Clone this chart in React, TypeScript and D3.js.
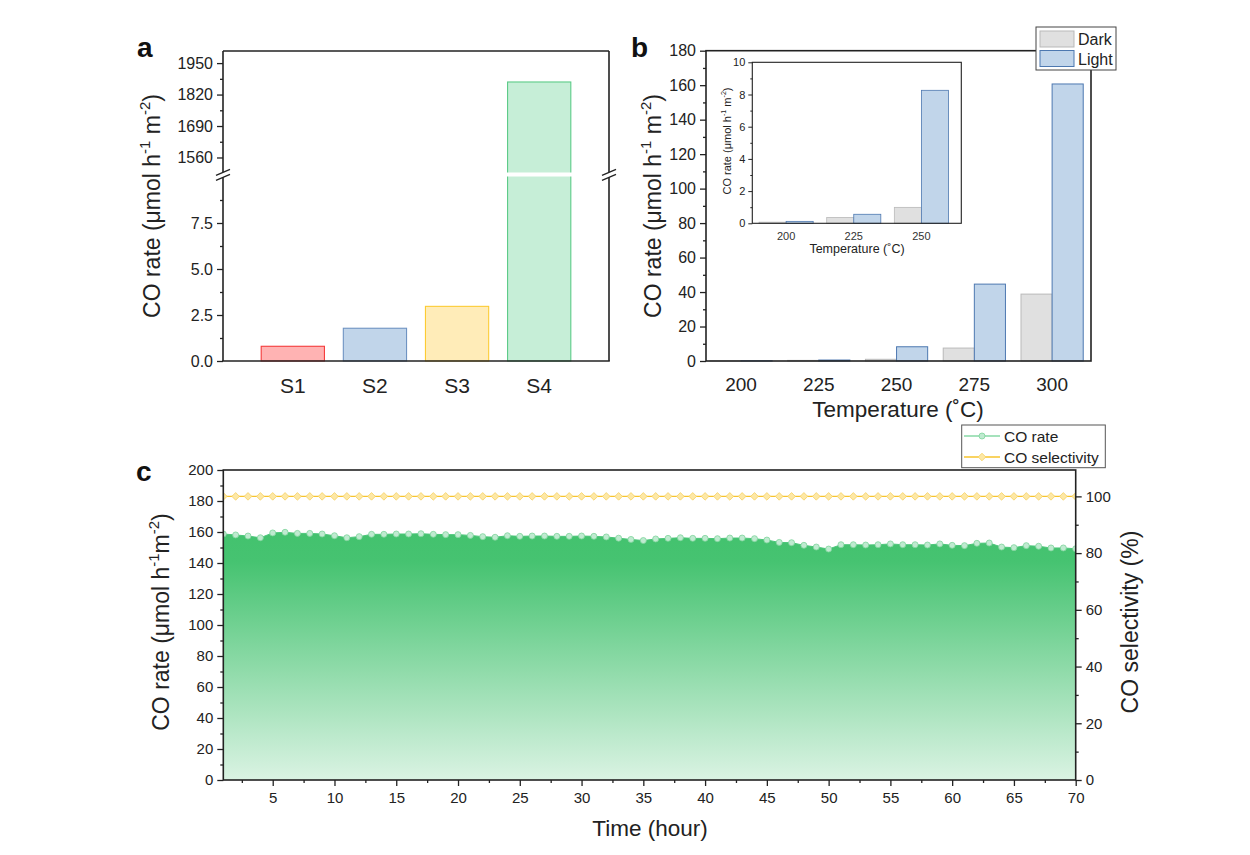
import { useEffect, useRef } from 'react'
import * as d3 from 'd3'

const FONT = '"Liberation Sans", Arial, sans-serif'
const INK = '#222'

// panel a
const SAMPLES = ['S1', 'S2', 'S3', 'S4']
const SAMPLE_RATE = [0.8, 1.78, 2.97, 1872]
const SAMPLE_FILL = ['#ffb3b3', '#c1d5ea', '#ffecb8', '#c6eed7']
const SAMPLE_STROKE = ['#f53b3b', '#6f93c2', '#fccb33', '#5ccb88']

// panel b
const TEMPS = ['200', '225', '250', '275', '300']
const DARK_RATE = [0.07, 0.36, 0.99, 7.5, 38.8]
const LIGHT_RATE = [0.12, 0.56, 8.26, 44.6, 160.7]

// panel c
const HOURS = [
  1, 2, 3, 4, 5, 6, 7, 8, 9, 10, 11, 12, 13, 14, 15, 16, 17, 18, 19, 20, 21, 22, 23, 24, 25, 26, 27, 28, 29, 30, 31, 32, 33, 34, 35,
  36, 37, 38, 39, 40, 41, 42, 43, 44, 45, 46, 47, 48, 49, 50, 51, 52, 53, 54, 55, 56, 57, 58, 59, 60, 61, 62, 63, 64, 65, 66, 67, 68,
  69, 70,
]
const CO_RATE = [
  158.7, 158.1, 157.4, 156.3, 159.4, 159.8, 159.1, 159.1, 158.7, 157.6, 156.3, 157.0, 158.5, 158.5, 158.7, 158.7, 158.9, 158.5, 158.3,
  158.3, 157.8, 157.0, 156.6, 157.6, 157.2, 157.4, 157.4, 157.2, 157.2, 157.4, 157.2, 156.8, 156.0, 155.2, 154.5, 155.5, 155.9, 156.3,
  155.9, 155.9, 155.7, 156.1, 156.1, 155.7, 154.8, 153.3, 153.1, 151.4, 150.3, 149.0, 151.8, 151.8, 151.6, 151.8, 152.3, 151.8, 151.8,
  151.6, 152.3, 151.4, 151.2, 152.7, 152.9, 150.3, 149.9, 151.2, 150.8, 149.7, 149.7, 149.2,
]
const CO_SELECTIVITY = [
  100, 100, 100, 100, 100, 100, 100, 100, 100, 100, 100, 100, 100, 100, 100, 100, 100, 100, 100, 100, 100, 100, 100, 100, 100, 100, 100,
  100, 100, 100, 100, 100, 100, 100, 100, 100, 100, 100, 100, 100, 100, 100, 100, 100, 100, 100, 100, 100, 100, 100, 100, 100, 100, 100,
  100, 100, 100, 100, 100, 100, 100, 100, 100, 100, 100, 100, 100, 100, 100, 100,
]

type Sel = d3.Selection<any, unknown, null, undefined>

function styleAxis(ga: Sel, fs: number) {
  ga.select('.domain').remove()
  ga.selectAll('line').attr('stroke', INK).attr('stroke-width', 1.3)
  ga.selectAll('text').attr('font-size', fs).attr('font-family', FONT).attr('fill', INK)
}

function vAxis(g: Sel, scale: any, x: number, majors: number[], minors: number[], fmt: (d: any) => string, fs: number, right = false) {
  const mk = right ? d3.axisRight : d3.axisLeft
  const a = g.append('g').attr('transform', `translate(${x},0)`).call(mk(scale).tickValues(majors).tickSize(6).tickPadding(4).tickFormat(fmt))
  styleAxis(a, fs)
  const m = g.append('g').attr('transform', `translate(${x},0)`).call(mk(scale).tickValues(minors).tickSize(3).tickFormat(() => ''))
  styleAxis(m, fs)
}

function rateLabel(t: Sel, fs: number, space: boolean) {
  t.append('tspan').text('CO rate (μmol h')
  t.append('tspan').attr('dy', -fs * 0.42).attr('font-size', fs * 0.65).text('-1')
  t.append('tspan').attr('dy', fs * 0.42).text(space ? ' m' : 'm')
  t.append('tspan').attr('dy', -fs * 0.42).attr('font-size', fs * 0.65).text('-2')
  t.append('tspan').attr('dy', fs * 0.42).text(')')
}

function frame(g: Sel, x0: number, x1: number, y0: number, y1: number, w = 1.6) {
  g.append('rect').attr('x', x0).attr('y', y0).attr('width', x1 - x0).attr('height', y1 - y0)
    .attr('fill', 'none').attr('stroke', INK).attr('stroke-width', w)
}

function panelLetter(svg: Sel, s: string, x: number, y: number) {
  svg.append('text').attr('x', x).attr('y', y).attr('font-family', FONT).attr('font-weight', 'bold')
    .attr('font-size', 28).attr('fill', '#111').text(s)
}

function drawA(svg: Sel) {
  const L = 223, R = 609, T = 51, B = 361, brkHi = 172, brkLo = 177
  const g = svg.append('g')
  const x = d3.scaleLinear().domain([0.15, 4.85]).range([L, R])
  const yLo = d3.scaleLinear().domain([0, 10]).range([B, brkLo])
  const yHi = d3.scaleLinear().domain([1500, 2000]).range([brkHi, T])
  const bw = 0.77

  SAMPLES.forEach((s, i) => {
    const v = SAMPLE_RATE[i]
    const top = v > 10 ? yHi(v) : yLo(v)
    g.append('rect').attr('x', x(i + 1 - bw / 2)).attr('y', top)
      .attr('width', x(i + 1 + bw / 2) - x(i + 1 - bw / 2)).attr('height', B - top)
      .attr('fill', SAMPLE_FILL[i]).attr('stroke', SAMPLE_STROKE[i]).attr('stroke-width', 1.1)
    if (v > 10) {
      g.append('rect').attr('x', x(i + 1 - bw / 2) - 2).attr('y', brkHi + 0.5)
        .attr('width', x(i + 1 + bw / 2) - x(i + 1 - bw / 2) + 4).attr('height', brkLo - brkHi - 1).attr('fill', '#fff')
    }
    g.append('text').attr('x', x(i + 1)).attr('y', 393).attr('text-anchor', 'middle')
      .attr('font-family', FONT).attr('font-size', 21).attr('fill', INK).text(s)
  })

  // frame with broken sides
  const ln = (x1: number, y1: number, x2: number, y2: number) =>
    g.append('line').attr('x1', x1).attr('y1', y1).attr('x2', x2).attr('y2', y2).attr('stroke', INK).attr('stroke-width', 1.6)
  ln(L, T, R, T)
  ln(L - 0.8, B, R + 0.8, B)
  ;[L, R].forEach((xx) => {
    ln(xx, T, xx, brkHi)
    ln(xx, brkLo, xx, B)
    ;[-2.2, 2.8].forEach((o) => {
      g.append('line').attr('x1', xx - 7).attr('y1', 174.5 + o + 3).attr('x2', xx + 7).attr('y2', 174.5 + o - 3)
        .attr('stroke', INK).attr('stroke-width', 1.3)
    })
  })

  vAxis(g, yLo, L, [0, 2.5, 5, 7.5], [1.25, 3.75, 6.25, 8.75], (d) => d3.format('.1f')(d), 16)
  vAxis(g, yHi, L, [1560, 1690, 1820, 1950], [1625, 1755, 1885], (d) => String(d), 16)

  const t = svg.append('text').attr('transform', 'translate(160,206) rotate(-90)').attr('text-anchor', 'middle')
    .attr('font-family', FONT).attr('font-size', 23).attr('fill', INK)
  rateLabel(t, 23, true)
  panelLetter(svg, 'a', 137, 57)
}

function drawB(svg: Sel) {
  const L = 706, R = 1091, T = 50.7, B = 361
  const g = svg.append('g')
  const x = d3.scaleLinear().domain([0.55, 5.5]).range([L, R])
  const y = d3.scaleLinear().domain([0, 180]).range([B, T])
  const bw = 0.4
  TEMPS.forEach((tc, i) => {
    const c = i + 1
    g.append('rect').attr('x', x(c - bw)).attr('y', y(DARK_RATE[i])).attr('width', x(c) - x(c - bw))
      .attr('height', B - y(DARK_RATE[i])).attr('fill', '#e0e0e0').attr('stroke', '#b9b9b9').attr('stroke-width', 1)
    g.append('rect').attr('x', x(c)).attr('y', y(LIGHT_RATE[i])).attr('width', x(c + bw) - x(c))
      .attr('height', B - y(LIGHT_RATE[i])).attr('fill', '#c1d5ea').attr('stroke', '#4d78b0').attr('stroke-width', 1)
    g.append('text').attr('x', x(c)).attr('y', 391).attr('text-anchor', 'middle')
      .attr('font-family', FONT).attr('font-size', 19).attr('fill', INK).text(tc)
  })
  frame(g, L, R, T, B)
  vAxis(g, y, L, d3.range(0, 181, 20), d3.range(10, 180, 20), (d) => String(d), 16)

  const t = svg.append('text').attr('transform', 'translate(661,206) rotate(-90)').attr('text-anchor', 'middle')
    .attr('font-family', FONT).attr('font-size', 23).attr('fill', INK)
  rateLabel(t, 23, true)
  svg.append('text').attr('x', 898).attr('y', 417).attr('text-anchor', 'middle').attr('font-family', FONT)
    .attr('font-size', 22.5).attr('fill', INK).text('Temperature (˚C)')
  panelLetter(svg, 'b', 631, 57)

  // inset
  const iL = 752.3, iR = 961.3, iT = 62.3, iB = 223.3
  const ix = d3.scaleLinear().domain([0.5, 3.59]).range([iL, iR])
  const iy = d3.scaleLinear().domain([0, 10]).range([iB, iT])
  TEMPS.slice(0, 3).forEach((tc, i) => {
    const c = i + 1
    g.append('rect').attr('x', ix(c - bw)).attr('y', iy(DARK_RATE[i])).attr('width', ix(c) - ix(c - bw))
      .attr('height', iB - iy(DARK_RATE[i])).attr('fill', '#e0e0e0').attr('stroke', '#b9b9b9').attr('stroke-width', 0.8)
    g.append('rect').attr('x', ix(c)).attr('y', iy(LIGHT_RATE[i])).attr('width', ix(c + bw) - ix(c))
      .attr('height', iB - iy(LIGHT_RATE[i])).attr('fill', '#c1d5ea').attr('stroke', '#4d78b0').attr('stroke-width', 0.8)
    g.append('text').attr('x', ix(c)).attr('y', 240).attr('text-anchor', 'middle')
      .attr('font-family', FONT).attr('font-size', 11).attr('fill', '#333').text(tc)
  })
  frame(g, iL, iR, iT, iB, 1.1)
  const ia = g.append('g').attr('transform', `translate(${iL},0)`)
    .call(d3.axisLeft(iy).tickValues([0, 2, 4, 6, 8, 10]).tickSize(4).tickPadding(3).tickFormat((d) => String(d)))
  styleAxis(ia, 11)
  ia.selectAll('line').attr('stroke-width', 1)
  const im = g.append('g').attr('transform', `translate(${iL},0)`)
    .call(d3.axisLeft(iy).tickValues([1, 3, 5, 7, 9]).tickSize(2).tickFormat(() => ''))
  styleAxis(im, 11)
  im.selectAll('line').attr('stroke-width', 1)
  const it = svg.append('text').attr('transform', 'translate(731,141) rotate(-90)').attr('text-anchor', 'middle')
    .attr('font-family', FONT).attr('font-size', 11).attr('fill', INK)
  rateLabel(it, 11, true)
  svg.append('text').attr('x', 857).attr('y', 253).attr('text-anchor', 'middle').attr('font-family', FONT)
    .attr('font-size', 12.5).attr('fill', INK).text('Temperature (˚C)')

  // legend
  const lg = svg.append('g')
  lg.append('rect').attr('x', 1036).attr('y', 27).attr('width', 80).attr('height', 43)
    .attr('fill', '#fff').attr('stroke', '#444').attr('stroke-width', 1)
  ;[['Dark', '#e0e0e0', '#b9b9b9'], ['Light', '#c1d5ea', '#4d78b0']].forEach(([name, f, s], i) => {
    lg.append('rect').attr('x', 1040).attr('y', 31 + i * 19.5).attr('width', 34).attr('height', 16)
      .attr('fill', f).attr('stroke', s).attr('stroke-width', 1)
    lg.append('text').attr('x', 1078).attr('y', 45 + i * 19.5).attr('font-family', FONT).attr('font-size', 16)
      .attr('fill', INK).text(name)
  })
}

function drawC(svg: Sel) {
  const L = 223.3, R = 1075.7, T = 470, B = 780
  const g = svg.append('g')
  const x = d3.scaleLinear().domain([1, 70]).range([L, R])
  const y = d3.scaleLinear().domain([0, 200]).range([B, T])
  const yR = d3.scaleLinear().domain([0, 109.3]).range([B, T])

  const defs = svg.append('defs')
  const grad = defs.append('linearGradient').attr('id', 'cgrad').attr('gradientUnits', 'userSpaceOnUse')
    .attr('x1', 0).attr('x2', 0).attr('y1', y(160)).attr('y2', y(0))
  grad.append('stop').attr('offset', 0).attr('stop-color', '#43c26e')
  grad.append('stop').attr('offset', 0.12).attr('stop-color', '#46c371')
  grad.append('stop').attr('offset', 1).attr('stop-color', '#daf3e3')
  defs.append('clipPath').attr('id', 'cclip').append('rect').attr('x', L).attr('y', T).attr('width', R - L).attr('height', B - T)

  const data = HOURS.map((h, i) => ({ h, r: CO_RATE[i], s: CO_SELECTIVITY[i] }))
  const pg = g.append('g').attr('clip-path', 'url(#cclip)')
  pg.append('path').datum(data).attr('fill', 'url(#cgrad)')
    .attr('d', d3.area<any>().x((d) => x(d.h)).y0(B).y1((d) => y(d.r)))
  pg.append('path').datum(data).attr('fill', 'none').attr('stroke', '#4cc67a').attr('stroke-width', 1)
    .attr('d', d3.line<any>().x((d) => x(d.h)).y((d) => y(d.r)))
  pg.selectAll('circle.r').data(data).join('circle').attr('class', 'r')
    .attr('cx', (d) => x(d.h)).attr('cy', (d) => y(d.r)).attr('r', 3)
    .attr('fill', '#bfead0').attr('stroke', '#7fd49c').attr('stroke-width', 0.8)
  pg.append('path').datum(data).attr('fill', 'none').attr('stroke', '#f7c42c').attr('stroke-width', 1.4)
    .attr('d', d3.line<any>().x((d) => x(d.h)).y((d) => yR(d.s)))
  const dia = 'M0,-3.8L3.8,0L0,3.8L-3.8,0Z'
  pg.selectAll('path.s').data(data).join('path').attr('class', 's')
    .attr('transform', (d) => `translate(${x(d.h)},${yR(d.s)})`).attr('d', dia)
    .attr('fill', '#fde8a6').attr('stroke', '#f6d062').attr('stroke-width', 0.8)

  frame(g, L, R, T, B)
  vAxis(g, y, L, d3.range(0, 201, 20), d3.range(10, 200, 20), (d) => String(d), 15)
  vAxis(g, yR, R, d3.range(0, 101, 20), d3.range(10, 100, 20), (d) => String(d), 15, true)
  const xa = g.append('g').attr('transform', `translate(0,${B})`)
    .call(d3.axisBottom(x).tickValues(d3.range(5, 71, 5)).tickSize(6).tickPadding(6).tickFormat((d) => String(d)))
  styleAxis(xa, 15)
  const xm = g.append('g').attr('transform', `translate(0,${B})`)
    .call(d3.axisBottom(x).tickValues(d3.range(2.5, 70, 5)).tickSize(3).tickFormat(() => ''))
  styleAxis(xm, 15)

  const t = svg.append('text').attr('transform', 'translate(169,622) rotate(-90)').attr('text-anchor', 'middle')
    .attr('font-family', FONT).attr('font-size', 23).attr('fill', INK)
  rateLabel(t, 23, false)
  svg.append('text').attr('transform', 'translate(1138,622) rotate(-90)').attr('text-anchor', 'middle')
    .attr('font-family', FONT).attr('font-size', 23).attr('fill', INK).text('CO selectivity (%)')
  svg.append('text').attr('x', 650).attr('y', 836).attr('text-anchor', 'middle').attr('font-family', FONT)
    .attr('font-size', 22.5).attr('fill', INK).text('Time (hour)')
  panelLetter(svg, 'c', 136, 481)

  // legend
  const lg = svg.append('g')
  lg.append('rect').attr('x', 961.7).attr('y', 425).attr('width', 143.6).attr('height', 42.7)
    .attr('fill', '#fff').attr('stroke', '#555').attr('stroke-width', 1)
  lg.append('line').attr('x1', 964).attr('x2', 1000).attr('y1', 436).attr('y2', 436).attr('stroke', '#4cc67a').attr('stroke-width', 1.2)
  lg.append('circle').attr('cx', 982).attr('cy', 436).attr('r', 3).attr('fill', '#bfead0').attr('stroke', '#7fd49c').attr('stroke-width', 0.8)
  lg.append('line').attr('x1', 964).attr('x2', 1000).attr('y1', 457).attr('y2', 457).attr('stroke', '#f7c42c').attr('stroke-width', 1.4)
  lg.append('path').attr('transform', 'translate(982,457)').attr('d', dia).attr('fill', '#fde8a6').attr('stroke', '#f6d062').attr('stroke-width', 0.8)
  lg.append('text').attr('x', 1004).attr('y', 441.5).attr('font-family', FONT).attr('font-size', 15.5).attr('fill', INK).text('CO rate')
  lg.append('text').attr('x', 1004).attr('y', 462.5).attr('font-family', FONT).attr('font-size', 15.5).attr('fill', INK).text('CO selectivity')
}

export default function App() {
  const ref = useRef<SVGSVGElement>(null)

  useEffect(() => {
    const el = ref.current
    if (!el) return
    const svg = d3.select(el) as unknown as Sel
    svg.selectAll('*').remove()
    drawA(svg)
    drawB(svg)
    drawC(svg)
  }, [])

  return (
    <div style={{ position: 'absolute', left: 0, top: 0 }}>
      <svg ref={ref} width={1250} height={855} style={{ display: 'block', background: '#fff' }} />
    </div>
  )
}
